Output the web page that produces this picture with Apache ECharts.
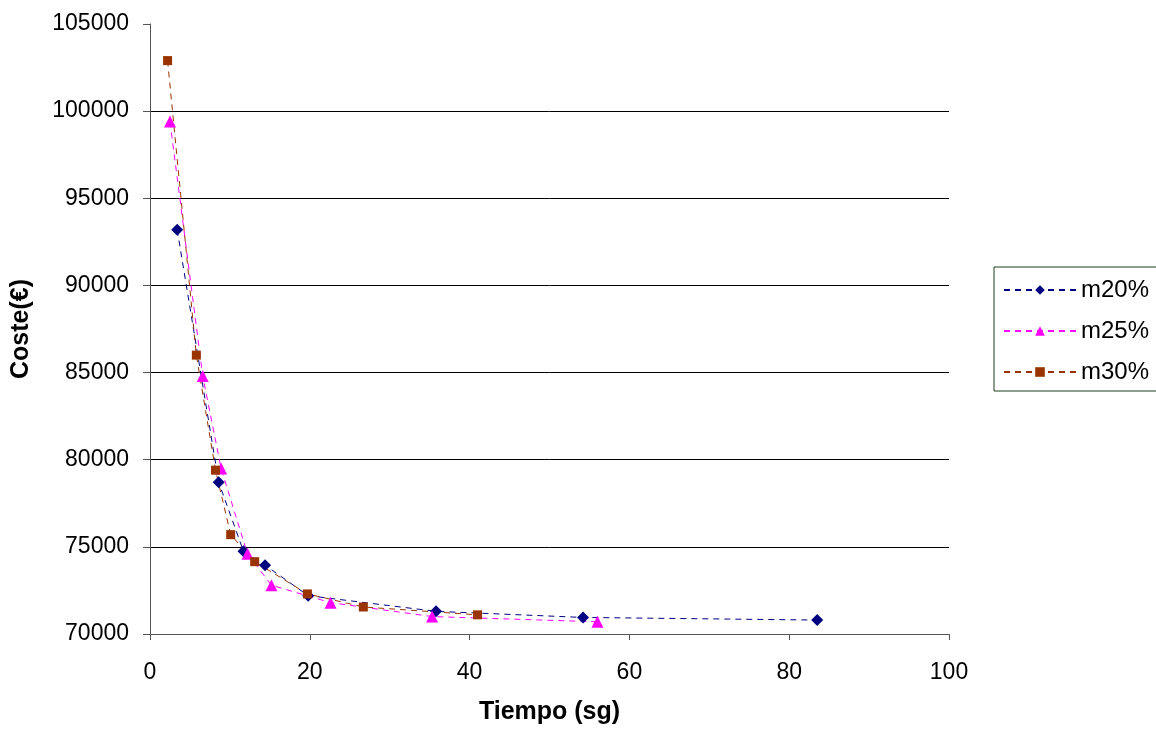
<!DOCTYPE html>
<html>
<head>
<meta charset="utf-8">
<script src="https://cdn.jsdelivr.net/npm/echarts@6/dist/echarts.min.js"></script>
<style>
html,body{margin:0;padding:0;background:#fff;}
#chart{width:1156px;height:731px;}
</style>
</head>
<body>
<div id="chart"></div>
<script>
const seriesNames = ['m20%', 'm25%', 'm30%'];
const m20 = [[3.4,93200],[8.6,78700],[11.7,74750],[14.4,73950],[19.8,72200],[35.8,71300],[54.2,70950],[83.5,70800]];
const m25 = [[2.5,99400],[6.6,84800],[8.9,79500],[12.2,74600],[15.2,72800],[22.6,71800],[35.3,71000],[56.0,70700]];
const m30 = [[2.2,102900],[5.8,86000],[8.2,79400],[10.1,75700],[13.1,74150],[19.7,72300],[26.7,71550],[41.0,71100]];
const xTitle = 'Tiempo (sg)';
const yTitle = 'Coste(€)';

const font = 'Liberation Sans, Arial, sans-serif';
const chart = echarts.init(document.getElementById('chart'), null, {renderer: 'canvas'});

function mk(name, data, color, symbol, size) {
  return {
    name: name, type: 'line', data: data,
    symbol: symbol, symbolSize: size,
    lineStyle: {color: color, width: 1, type: [6, 5]},
    itemStyle: {color: color},
    emphasis: {disabled: true},
    animation: false
  };
}

chart.setOption({
  animation: false,
  backgroundColor: '#fff',
  grid: {left: 150, right: 207, top: 24, bottom: 97, containLabel: false, outerBoundsMode: 'none'},
  xAxis: {
    type: 'value', min: 0, max: 100, interval: 20,
    name: xTitle, nameLocation: 'middle', nameGap: 66,
    nameTextStyle: {fontFamily: font, fontSize: 25, fontWeight: 'bold', color: '#000'},
    axisLine: {show: true, lineStyle: {color: '#555', width: 1}},
    axisTick: {show: true, inside: false, length: 6, lineStyle: {color: '#555'}},
    axisLabel: {fontFamily: font, fontSize: 23, color: '#000', margin: 27},
    splitLine: {show: false}
  },
  yAxis: {
    type: 'value', min: 70000, max: 105000, interval: 5000,
    name: yTitle, nameLocation: 'middle', nameGap: 116, nameRotate: 90,
    nameTextStyle: {fontFamily: font, fontSize: 25, fontWeight: 'bold', color: '#000'},
    axisLine: {show: true, lineStyle: {color: '#555', width: 1}},
    axisTick: {show: true, inside: false, length: 7, lineStyle: {color: '#555'}},
    axisLabel: {fontFamily: font, fontSize: 23, color: '#000', margin: 21,
      formatter: function (v) { return String(v); }},
    splitLine: {show: true, showMaxLine: false, lineStyle: {color: '#000', width: 1}}
  },
  legend: {
    orient: 'vertical', left: 994, top: 267,
    padding: [10, 30, 6, 9],
    itemGap: 15, itemWidth: 72, itemHeight: 12,
    borderColor: '#1f3f1f', borderWidth: 1,
    textStyle: {fontFamily: font, fontSize: 24, color: '#000', lineHeight: 26},
    data: seriesNames
  },
  series: [
    mk(seriesNames[0], m20, '#000080', 'diamond', 12),
    mk(seriesNames[1], m25, '#ff00ff', 'triangle', 12),
    mk(seriesNames[2], m30, '#993300', 'rect', 9)
  ]
});
</script>
</body>
</html>
